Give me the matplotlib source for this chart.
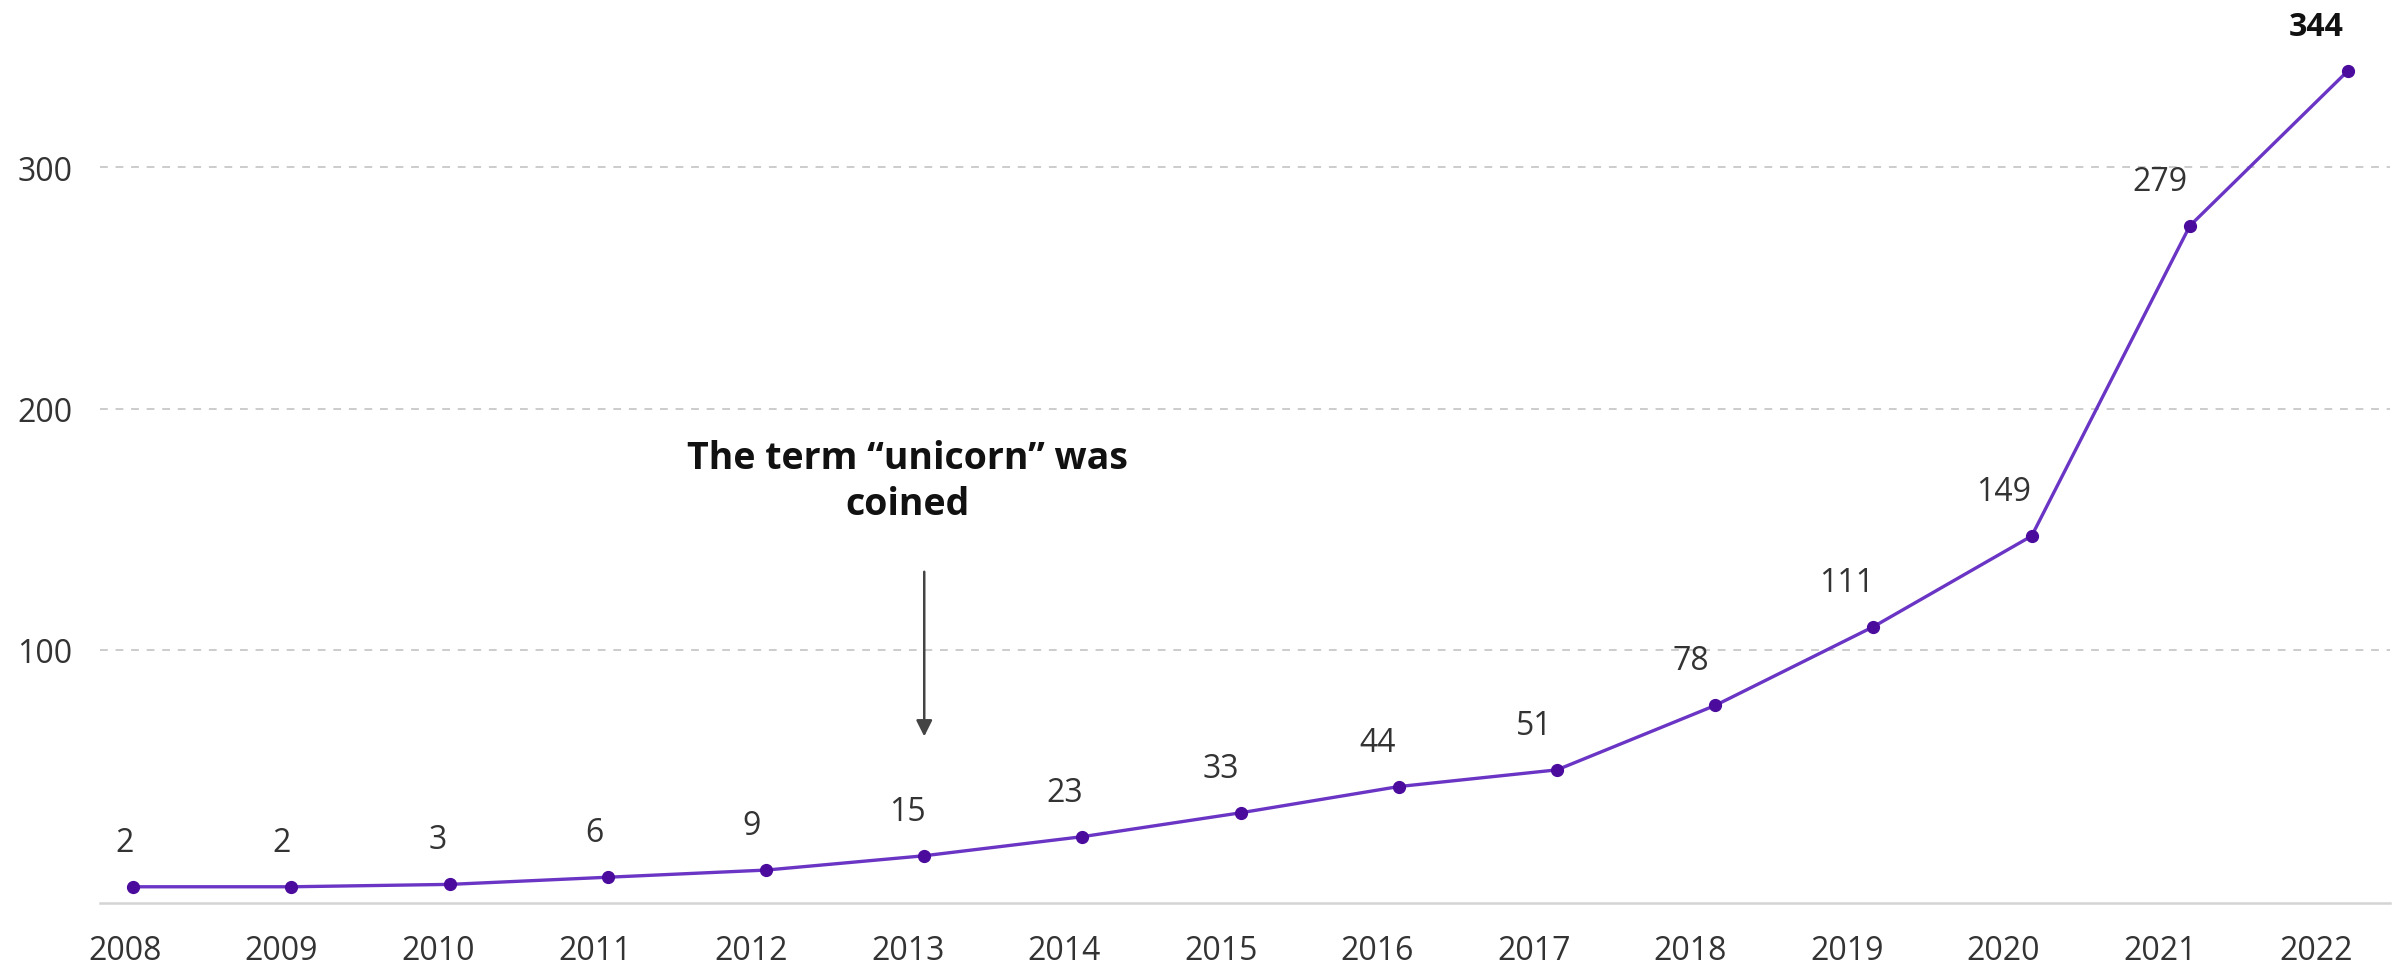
import matplotlib
matplotlib.use("Agg")
import matplotlib.pyplot as plt

# Number of unicorn companies per year
years = [2008, 2009, 2010, 2011, 2012, 2013, 2014, 2015, 2016, 2017, 2018, 2019, 2020, 2021, 2022]
counts = [2, 2, 3, 6, 9, 15, 23, 33, 44, 51, 78, 111, 149, 279, 344]
y_ticks = [100, 200, 300]
note_text = "The term \u201cunicorn\u201d was\ncoined"
note_year = 2013

plt.rcParams["font.family"] = ["Open Sans", "DejaVu Sans"]

LINE = "#6a35c4"
MARK = "#4b0c9e"
TEXT = "#333333"
GRID = "#cccccc"

fig = plt.figure(figsize=(23.94, 9.78), dpi=100)
rect = [100 / 2394, 1 - 904 / 978, 2290 / 2394, 904 / 978]
ax = fig.add_axes(rect)
ax_line = fig.add_axes(rect)
ax_line.patch.set_visible(False)

y_min, y_max = -4.8, 369.6
ax.set_ylim(y_min, y_max)
ax_line.set_ylim(y_min, y_max * 1.012)
ax.set_xlim(2007.84, 2022.47)
ax_line.set_xlim(2007.79, 2022.265)

# grid and baseline
ax.set_yticks(y_ticks)
ax.set_yticklabels([str(v) for v in y_ticks])
for v in y_ticks:
    ax.axhline(v, color=GRID, lw=1.4, ls=(0, (4, 4)), zorder=0)
for s in ["top", "right", "left"]:
    ax.spines[s].set_visible(False)
    ax_line.spines[s].set_visible(False)
ax_line.spines["bottom"].set_visible(False)
ax.spines["bottom"].set_color("#d4d4d4")
ax.spines["bottom"].set_linewidth(1.8)

ax.set_xticks(years)
ax.set_xticklabels([str(y) for y in years])
ax.tick_params(axis="x", length=0, pad=22, labelsize=23, labelcolor=TEXT)
ax.tick_params(axis="y", length=0, pad=20, labelsize=23, labelcolor=TEXT)
ax_line.set_xticks([])
ax_line.set_yticks([])

# series line
ax_line.plot(years, counts, color=LINE, lw=2.4, zorder=3)
ax_line.plot(years, counts, ls="none", marker="o", ms=8.5, color=MARK, zorder=4)

# value labels, centred on the year ticks
x_to_line = lambda x: ax_line.transData.inverted().transform(ax.transData.transform((x, 0)))[0]
for i, (yr, c) in enumerate(zip(years, counts)):
    last = i == len(years) - 1
    ax_line.annotate(str(c), xy=(x_to_line(yr), c), xytext=(0, 32), textcoords="offset points",
                     ha="center", va="center", fontsize=23, color="#111111" if last else TEXT,
                     fontweight="bold" if last else "normal", zorder=5)

# annotation
ax.text(note_year, 170, note_text, ha="center", va="center", fontsize=27,
        fontweight="bold", color="#111111", linespacing=1.25)
ax_line.annotate("", xy=(note_year, 65), xytext=(note_year, 134),
                 arrowprops=dict(arrowstyle="-|>", color="#444444", lw=1.8,
                                 mutation_scale=24, shrinkA=0, shrinkB=0))

fig.savefig("out.png", dpi=100)
